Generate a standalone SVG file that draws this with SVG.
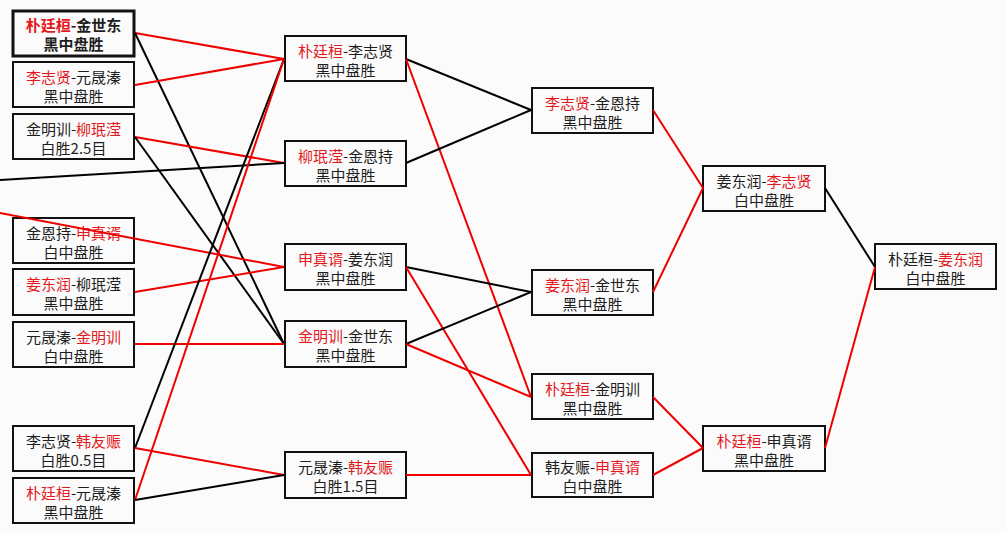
<svg xmlns="http://www.w3.org/2000/svg" width="1007" height="533" viewBox="0 0 1007 533">
<style>
.bg{fill:#fbfbfb}
.box{fill:none;stroke:#111;stroke-width:2}
.thick{stroke-width:3}
.t{font-family:"Noto Sans CJK SC","Liberation Sans",sans-serif;font-size:15px;text-anchor:middle;fill:#1e1e1e}
.b{font-weight:bold}
.r{fill:#e3191e}
.lr{stroke:#ee0000;stroke-width:2;fill:none}
.lb{stroke:#000;stroke-width:2;fill:none}
</style>
<rect class="bg" x="0" y="0" width="1007" height="533"/>
<g id="n1"><rect class="box thick" x="13" y="11" width="121" height="45"/><text class="t b" x="73.5" y="31"><tspan class="r">朴廷桓</tspan>-金世东</text><text class="t b" x="73.5" y="50">黑中盘胜</text></g>
<g id="n2"><rect class="box" x="13" y="62" width="121" height="45"/><text class="t" x="73.5" y="83"><tspan class="r">李志贤</tspan>-元晟溱</text><text class="t" x="73.5" y="102">黑中盘胜</text></g>
<g id="n3"><rect class="box" x="13" y="114" width="121" height="45"/><text class="t" x="73.5" y="135">金明训-<tspan class="r">柳珉滢</tspan></text><text class="t" x="73.5" y="154">白胜2.5目</text></g>
<g id="n4"><rect class="box" x="13" y="218" width="121" height="45"/><text class="t" x="73.5" y="239">金恩持-<tspan class="r">申真谞</tspan></text><text class="t" x="73.5" y="258">白中盘胜</text></g>
<g id="n5"><rect class="box" x="13" y="269" width="121" height="46"/><text class="t" x="73.5" y="290"><tspan class="r">姜东润</tspan>-柳珉滢</text><text class="t" x="73.5" y="309">黑中盘胜</text></g>
<g id="n6"><rect class="box" x="13" y="322" width="121" height="45"/><text class="t" x="73.5" y="343">元晟溱-<tspan class="r">金明训</tspan></text><text class="t" x="73.5" y="362">白中盘胜</text></g>
<g id="n7"><rect class="box" x="13" y="426" width="121" height="45"/><text class="t" x="73.5" y="447">李志贤-<tspan class="r">韩友赈</tspan></text><text class="t" x="73.5" y="466">白胜0.5目</text></g>
<g id="n8"><rect class="box" x="13" y="478" width="121" height="45"/><text class="t" x="73.5" y="499"><tspan class="r">朴廷桓</tspan>-元晟溱</text><text class="t" x="73.5" y="518">黑中盘胜</text></g>
<g id="nA"><rect class="box" x="285" y="36" width="121" height="45"/><text class="t" x="345.5" y="57"><tspan class="r">朴廷桓</tspan>-李志贤</text><text class="t" x="345.5" y="76">黑中盘胜</text></g>
<g id="nB"><rect class="box" x="285" y="141" width="121" height="45"/><text class="t" x="345.5" y="162"><tspan class="r">柳珉滢</tspan>-金恩持</text><text class="t" x="345.5" y="181">黑中盘胜</text></g>
<g id="nC"><rect class="box" x="285" y="244" width="121" height="46"/><text class="t" x="345.5" y="265"><tspan class="r">申真谞</tspan>-姜东润</text><text class="t" x="345.5" y="284">黑中盘胜</text></g>
<g id="nD"><rect class="box" x="285" y="321" width="121" height="46"/><text class="t" x="345.5" y="342"><tspan class="r">金明训</tspan>-金世东</text><text class="t" x="345.5" y="361">黑中盘胜</text></g>
<g id="nE"><rect class="box" x="285" y="452" width="121" height="46"/><text class="t" x="345.5" y="473">元晟溱-<tspan class="r">韩友赈</tspan></text><text class="t" x="345.5" y="492">白胜1.5目</text></g>
<g id="nF"><rect class="box" x="532" y="88" width="121" height="45"/><text class="t" x="592.5" y="109"><tspan class="r">李志贤</tspan>-金恩持</text><text class="t" x="592.5" y="128">黑中盘胜</text></g>
<g id="nG"><rect class="box" x="532" y="270" width="121" height="45"/><text class="t" x="592.5" y="291"><tspan class="r">姜东润</tspan>-金世东</text><text class="t" x="592.5" y="310">黑中盘胜</text></g>
<g id="nH"><rect class="box" x="532" y="374" width="121" height="45"/><text class="t" x="592.5" y="395"><tspan class="r">朴廷桓</tspan>-金明训</text><text class="t" x="592.5" y="414">黑中盘胜</text></g>
<g id="nI"><rect class="box" x="532" y="453" width="121" height="44"/><text class="t" x="592.5" y="473">韩友赈-<tspan class="r">申真谞</tspan></text><text class="t" x="592.5" y="492">白中盘胜</text></g>
<g id="nJ"><rect class="box" x="703" y="166" width="122" height="45"/><text class="t" x="764" y="187">姜东润-<tspan class="r">李志贤</tspan></text><text class="t" x="764" y="206">白中盘胜</text></g>
<g id="nK"><rect class="box" x="703" y="426" width="122" height="45"/><text class="t" x="764" y="447"><tspan class="r">朴廷桓</tspan>-申真谞</text><text class="t" x="764" y="466">黑中盘胜</text></g>
<g id="nL"><rect class="box" x="875" y="244" width="121" height="45"/><text class="t" x="935.5" y="265">朴廷桓-<tspan class="r">姜东润</tspan></text><text class="t" x="935.5" y="284">白中盘胜</text></g>
<g id="connectors">
<line class="lr" x1="135" y1="33" x2="284" y2="59"/>
<line class="lb" x1="135" y1="33" x2="284" y2="344"/>
<line class="lr" x1="135" y1="85" x2="284" y2="59"/>
<line class="lr" x1="135" y1="137" x2="284" y2="163"/>
<line class="lb" x1="135" y1="137" x2="284" y2="344"/>
<line class="lb" x1="0" y1="180" x2="284" y2="163"/>
<line class="lr" x1="0" y1="213" x2="284" y2="267"/>
<line class="lr" x1="135" y1="292" x2="284" y2="267"/>
<line class="lr" x1="135" y1="344" x2="284" y2="344"/>
<line class="lb" x1="135" y1="448" x2="284" y2="59"/>
<line class="lr" x1="135" y1="448" x2="284" y2="475"/>
<line class="lr" x1="135" y1="500" x2="284" y2="59"/>
<line class="lb" x1="135" y1="500" x2="284" y2="475"/>
<line class="lb" x1="406" y1="59" x2="531" y2="110"/>
<line class="lr" x1="406" y1="59" x2="531" y2="397"/>
<line class="lb" x1="406" y1="163" x2="531" y2="110"/>
<line class="lb" x1="406" y1="267" x2="531" y2="292"/>
<line class="lr" x1="406" y1="267" x2="531" y2="475"/>
<line class="lb" x1="406" y1="344" x2="531" y2="292"/>
<line class="lr" x1="406" y1="344" x2="531" y2="397"/>
<line class="lr" x1="406" y1="475" x2="531" y2="475"/>
<line class="lr" x1="653" y1="110" x2="703" y2="188"/>
<line class="lr" x1="653" y1="292" x2="703" y2="188"/>
<line class="lr" x1="653" y1="397" x2="703" y2="448"/>
<line class="lr" x1="653" y1="475" x2="703" y2="448"/>
<line class="lb" x1="825" y1="188" x2="875" y2="267"/>
<line class="lr" x1="825" y1="448" x2="875" y2="267"/>
</g>
</svg>
